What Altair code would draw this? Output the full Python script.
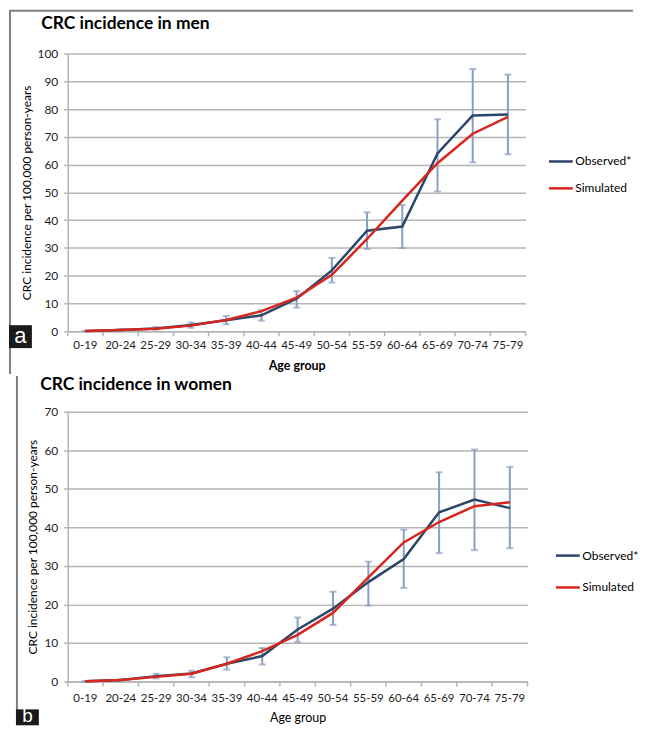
import altair as alt
import pandas as pd

age_groups = ["0-19", "20-24", "25-29", "30-34", "35-39", "40-44", "45-49",
              "50-54", "55-59", "60-64", "65-69", "70-74", "75-79"]
series_names = ["Observed*", "Simulated"]
panel_titles = ["CRC incidence in men", "CRC incidence in women"]
panel_tags = ["a", "b"]
y_title = "CRC incidence per 100,000 person-years"
x_title = "Age group"

men_observed = [0.05, 0.4, 1.0, 2.2, 3.9, 5.7, 11.7, 21.9, 36.2, 37.7, 64.0, 77.7, 78.0]
men_simulated = [0.1, 0.4, 0.9, 2.0, 4.0, 7.2, 12.1, 20.3, 33.2, 47.0, 60.5, 71.1, 77.2]
men_lower = [0.0, 0.2, 0.5, 1.2, 2.5, 3.8, 8.5, 17.5, 29.6, 29.9, 50.3, 60.8, 63.7]
men_upper = [0.1, 0.7, 1.5, 3.1, 5.5, 7.5, 14.4, 26.4, 42.8, 45.4, 76.3, 94.4, 92.4]
men_ticks = [0, 10, 20, 30, 40, 50, 60, 70, 80, 90, 100]

women_observed = [0.05, 0.4, 1.4, 2.1, 4.6, 6.6, 13.5, 18.9, 25.8, 31.8, 43.9, 47.2, 45.0]
women_simulated = [0.05, 0.4, 1.2, 2.0, 4.6, 7.9, 12.1, 17.8, 27.0, 36.1, 41.4, 45.5, 46.5]
women_lower = [0.0, 0.2, 0.8, 1.1, 3.1, 4.4, 10.3, 14.7, 19.7, 24.3, 33.3, 34.1, 34.6]
women_upper = [0.1, 0.6, 2.0, 2.8, 6.3, 8.7, 16.6, 23.3, 31.1, 39.4, 54.3, 60.2, 55.7]
women_ticks = [0, 10, 20, 30, 40, 50, 60, 70]

FONT = "Lato"
OBS = "#2b4668"
SIM = "#d7261e"
ERR = "#8a9fc0"
GRID = "#b5b5b5"
FRAME = "#808080"
TXT = "#222222"


def make_panel(title, tag, obs, sim, lo, hi, ticks, w, h, lay):
    one = pd.DataFrame({"t": [title]})
    tagdf = pd.DataFrame({"t": [tag]})
    lines_df = pd.DataFrame({
        "group": age_groups * 2,
        "series": [series_names[0]] * len(age_groups) + [series_names[1]] * len(age_groups),
        "value": obs + sim,
    })
    err_df = pd.DataFrame({"group": age_groups, "lo": lo, "hi": hi})

    xscale = alt.Scale(type="band", domain=age_groups, paddingInner=0, paddingOuter=0)
    yscale = alt.Scale(domain=[ticks[0], ticks[-1]], nice=False)
    xaxis = alt.Axis(title=x_title, labelAngle=0, grid=False, ticks=False, tickSize=0,
                     domainColor=GRID, domainWidth=1.5,
                     labelFont=FONT, labelFontSize=11.5, labelColor=TXT,
                     labelPadding=lay["xlabpad"], titleFont=FONT, titleFontSize=12.5,
                     titleFontWeight=lay["xtw"], titleColor="#000000",
                     titleY=lay["xty"], titleBaseline="middle")
    yaxis = alt.Axis(title=y_title, values=ticks, grid=True, gridColor=GRID, gridWidth=1.5,
                     domainColor=GRID, domainWidth=1.5, tickColor=GRID, tickWidth=1.5,
                     tickSize=4, labelFont=FONT, labelFontSize=12, labelColor=TXT,
                     labelPadding=6, titleFont=FONT, titleFontSize=12, titleFontWeight="normal",
                     titleColor="#000000", titleX=lay["ytx"], titleY=h / 2,
                     titleBaseline="bottom", titleAngle=270, minExtent=0)

    X = alt.X("group:N", sort=age_groups, scale=xscale, axis=xaxis)

    xticks = alt.Chart(err_df).mark_rule(color=GRID, strokeWidth=1.5).encode(
        x=alt.X("group:N", sort=age_groups, scale=xscale, axis=xaxis, bandPosition=0),
        y=alt.value(h), y2=alt.value(h + 5),
    )
    end_tick = alt.Chart(one).mark_rule(color=GRID, strokeWidth=1.5).encode(
        x=alt.value(w), y=alt.value(h), y2=alt.value(h + 5))
    err = alt.Chart(err_df).mark_rule(color=ERR, strokeWidth=2).encode(
        x=X,
        y=alt.Y("lo:Q", scale=yscale, axis=yaxis),
        y2="hi:Q",
    )
    cap_lo = alt.Chart(err_df).mark_tick(color=ERR, thickness=2, size=7).encode(
        x=X,
        y=alt.Y("lo:Q", scale=yscale, axis=yaxis),
    )
    cap_hi = alt.Chart(err_df).mark_tick(color=ERR, thickness=2, size=7).encode(
        x=X,
        y=alt.Y("hi:Q", scale=yscale, axis=yaxis),
    )
    lines = alt.Chart(lines_df).mark_line(strokeWidth=2.5).encode(
        x=X,
        y=alt.Y("value:Q", scale=yscale, axis=yaxis),
        color=alt.Color("series:N", scale=alt.Scale(domain=series_names, range=[OBS, SIM]),
                        legend=alt.Legend(orient="none", legendX=lay["lx"], legendY=lay["ly"],
                                          title=None, symbolType="stroke", symbolSize=576,
                                          symbolStrokeWidth=2.5, labelFont=FONT,
                                          labelFontSize=12, labelColor="#000000",
                                          labelOffset=1, rowPadding=lay["rowpad"], padding=0)),
        detail="series:N",
    )
    ttl = alt.Chart(one).mark_text(align="left", baseline="alphabetic", font=FONT, fontSize=17.5,
                                   fontWeight="bold", color="#000000").encode(
        text="t:N", x=alt.value(lay["tx"]), y=alt.value(lay["ty"]))
    frame_v = alt.Chart(one).mark_rule(color=FRAME, strokeWidth=2).encode(
        x=alt.value(lay["fx"]), y=alt.value(lay["fy1"]), y2=alt.value(lay["fy2"]))
    layers = [xticks, end_tick, err, cap_lo, cap_hi, lines, ttl, frame_v]
    if lay.get("top"):
        frame_h = alt.Chart(one).mark_rule(color=FRAME, strokeWidth=2).encode(
            x=alt.value(lay["bx"]), x2=alt.value(lay["fxr"]), y=alt.value(lay["fy1"]))
        layers.append(frame_h)
    box = alt.Chart(tagdf).mark_rect(color="#1a1a1a").encode(
        x=alt.value(lay["bx"]), x2=alt.value(lay["bx"] + 23),
        y=alt.value(lay["by1"]), y2=alt.value(lay["by2"]))
    tagtxt = alt.Chart(tagdf).mark_text(align="center", baseline="alphabetic",
                                        font="Liberation Sans", fontSize=lay["tagfs"],
                                        color="#ffffff").encode(
        text="t:N", x=alt.value(lay["bx"] + 11.5), y=alt.value(lay["tagy"]))
    layers += [box, tagtxt]
    return alt.layer(*layers).properties(width=w, height=h)


top = make_panel(panel_titles[0], panel_tags[0], men_observed, men_simulated, men_lower,
                 men_upper, men_ticks, 460, 279,
                 dict(xlabpad=8, xtw="bold", xty=35, ytx=-34, lx=482, ly=95, rowpad=7,
                      tx=-26.5, ty=-24.7, fx=-58, fy1=-43, fy2=322, top=True, fxr=568,
                      bx=-59, by1=273, by2=296, tagy=291, tagfs=22))
bottom = make_panel(panel_titles[1], panel_tags[1], women_observed, women_simulated,
                    women_lower, women_upper, women_ticks, 462, 271,
                    dict(xlabpad=11, xtw="normal", xty=36, ytx=-28, lx=489, ly=131, rowpad=12,
                         tx=-27.7, ty=-22, fx=-51, fy1=-36, fy2=314,
                         bx=-52, by1=299, by2=315, tagy=312, tagfs=19))

chart = alt.vconcat(top, bottom, spacing=0).resolve_scale(
    color="independent", x="independent", y="independent"
).resolve_legend(color="independent").properties(
    padding=0, background="white"
).configure_view(stroke=None)

chart.save("out.html", embed_options={"renderer": "svg", "actions": False})
